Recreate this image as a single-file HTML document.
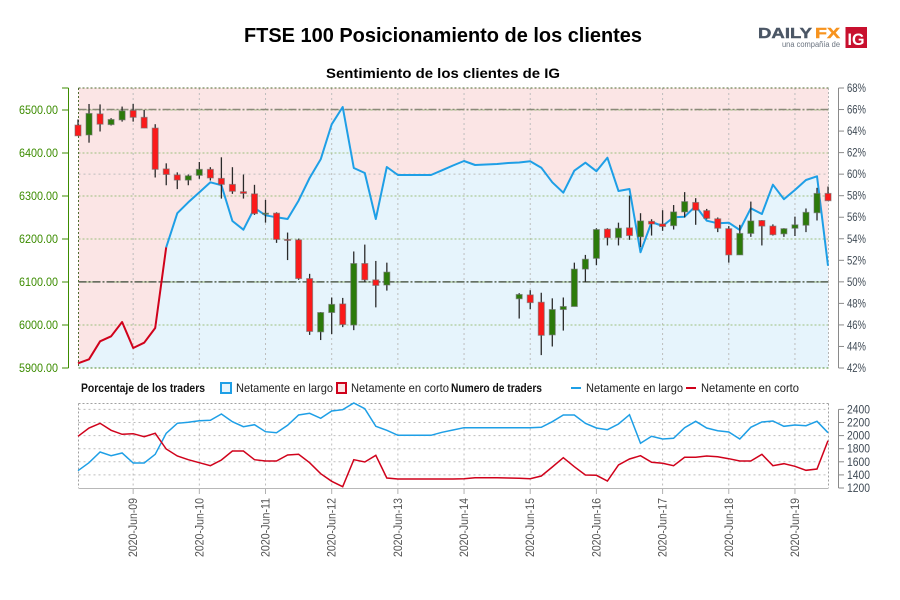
<!DOCTYPE html>
<html lang="es">
<head>
<meta charset="utf-8">
<title>FTSE 100 Posicionamiento de los clientes</title>
<style>
html,body{margin:0;padding:0;background:#fff;}
svg{display:block;font-family:"Liberation Sans",sans-serif;}
</style>
</head>
<body>
<svg id="chart" width="900" height="600" viewBox="0 0 900 600" xmlns="http://www.w3.org/2000/svg">
  <rect x="0" y="0" width="900" height="600" fill="#ffffff"/>
  <text x="244" y="42" font-size="20" font-weight="700" fill="#000" textLength="398" lengthAdjust="spacingAndGlyphs">FTSE 100 Posicionamiento de los clientes</text>
  <text x="326" y="78" font-size="14" font-weight="700" fill="#000" textLength="234" lengthAdjust="spacingAndGlyphs">Sentimiento de los clientes de IG</text>

  <g>
    <text x="758" y="38" font-size="15" font-weight="700" fill="#4b5665" stroke="#4b5665" stroke-width="0.4" textLength="54" lengthAdjust="spacingAndGlyphs">DAILY</text>
    <text x="815" y="38" font-size="15" font-weight="700" fill="#f7931e" stroke="#f7931e" stroke-width="0.4" textLength="25" lengthAdjust="spacingAndGlyphs">FX</text>
    <text x="782" y="47" font-size="8" fill="#6b7480" textLength="58" lengthAdjust="spacingAndGlyphs">una compañía de</text>
    <rect x="845.5" y="27" width="21.5" height="21" fill="#c8102e"/>
    <text x="847.5" y="45" font-size="17" font-weight="700" fill="#ffffff" textLength="17" lengthAdjust="spacingAndGlyphs">IG</text>
  </g>

  <g id="main-panel"></g>
  <g id="lower-panel"></g>

  <g font-size="12">
    <text x="81" y="392" font-weight="700" fill="#111" textLength="124" lengthAdjust="spacingAndGlyphs">Porcentaje de los traders</text>
    <rect x="221" y="383" width="10" height="10" fill="#e6f4fc" stroke="#1e9fe6" stroke-width="2"/>
    <text x="236" y="392" fill="#222" textLength="97" lengthAdjust="spacingAndGlyphs">Netamente en largo</text>
    <rect x="337" y="383" width="9" height="10" fill="#fbe5e5" stroke="#d0021b" stroke-width="2"/>
    <text x="351" y="392" fill="#222" textLength="98" lengthAdjust="spacingAndGlyphs">Netamente en corto</text>
    <text x="451" y="392" font-weight="700" fill="#111" textLength="91" lengthAdjust="spacingAndGlyphs">Numero de traders</text>
    <line x1="571" y1="388" x2="581" y2="388" stroke="#1e9fe6" stroke-width="2"/>
    <text x="586" y="392" fill="#222" textLength="97" lengthAdjust="spacingAndGlyphs">Netamente en largo</text>
    <line x1="686" y1="388" x2="696" y2="388" stroke="#d0021b" stroke-width="2"/>
    <text x="701" y="392" fill="#222" textLength="98" lengthAdjust="spacingAndGlyphs">Netamente en corto</text>
  </g>
</svg>
<script>
const dayLabels = ['2020-Jun-09','2020-Jun-10','2020-Jun-11','2020-Jun-12','2020-Jun-13','2020-Jun-14','2020-Jun-15','2020-Jun-16','2020-Jun-17','2020-Jun-18','2020-Jun-19'];
const priceTicks = [6500,6400,6300,6200,6100,6000,5900];
const pctTicks = [68,66,64,62,60,58,56,54,52,50,48,46,44,42];
const countTicks = [2400,2200,2000,1800,1600,1400,1200];
const opens = [6465,6442,6491,6466,6477,6499,6483,6458,6363,6349,6337,6348,6362,6341,6327,6310,6305,6258,6260,6199,6198,6108,5984,6029,6049,6000,6143,6105,6093,null,null,null,null,null,null,null,null,null,null,null,6061,6070,6053,5977,6036,6043,6130,6155,6223,6203,6226,6205,6241,6235,6231,6263,6285,6266,6247,6224,6163,6213,6243,6230,6212,6225,6232,6261,6306];
const highs = [6478,6514,6513,6481,6508,6514,6500,6467,6376,6355,6350,6379,6367,6390,6367,6350,6326,6291,6262,6215,6201,6119,6030,6064,6063,6171,6187,6149,6145,null,null,null,null,null,null,null,null,null,null,null,6074,6081,6075,6062,6064,6145,6163,6225,6225,6238,6301,6260,6246,6267,6279,6309,6295,6270,6250,6230,6233,6287,6244,6234,6225,6252,6271,6319,6322];
const lows = [6440,6424,6450,6464,6473,6473,6458,6343,6325,6316,6325,6340,6336,6294,6305,6294,6256,6238,6191,6151,6105,5977,5965,5979,5995,5988,6100,6041,6080,null,null,null,null,null,null,null,null,null,null,null,6015,6037,5930,5950,5987,6043,6100,6139,6185,6185,6198,6181,6208,6219,6222,6250,6233,6246,6216,6145,6163,6205,6185,6208,6205,6207,6216,6243,6289];
const closes = [6440,6492,6467,6478,6498,6483,6458,6362,6350,6337,6347,6362,6342,6327,6311,6306,6259,6260,6199,6197,6108,5985,6029,6048,6001,6143,6105,6092,6123,null,null,null,null,null,null,null,null,null,null,null,6071,6052,5976,6036,6043,6130,6153,6222,6203,6225,6208,6242,6235,6229,6263,6287,6267,6248,6225,6163,6213,6242,6230,6210,6224,6233,6262,6306,6289];
const longPercent = [42.44,42.81,44.48,44.94,46.27,43.86,44.35,45.71,53.21,56.37,57.39,58.31,59.24,58.97,55.65,54.84,56.86,56.18,55.99,55.84,57.54,59.64,61.38,64.63,66.24,60.57,60.11,55.84,60.66,59.92,59.92,59.92,59.92,60.36,60.8,61.22,60.85,60.9,60.94,61.04,61.08,61.19,60.6,59.24,58.28,60.32,61.06,60.27,61.53,58.44,58.62,52.74,55.56,55.19,55.99,56.05,57.04,55.68,55.44,55.49,54.81,56.83,56.3,59.02,57.67,58.53,59.46,59.8,51.5];
const longTraders = [1464,1586,1750,1693,1734,1582,1582,1715,2035,2188,2203,2228,2234,2330,2212,2136,2167,2060,2044,2157,2315,2341,2264,2376,2396,2498,2411,2142,2081,2005,2005,2005,2005,2051,2086,2121,2121,2121,2121,2121,2121,2121,2127,2212,2315,2315,2188,2116,2090,2177,2319,1883,1989,1948,1959,2121,2218,2116,2075,2055,1948,2127,2208,2223,2142,2162,2151,2218,2044];
const shortTraders = [1989,2116,2188,2081,2020,2029,1983,2035,1796,1689,1632,1586,1541,1628,1765,1765,1632,1612,1612,1704,1715,1586,1418,1302,1220,1632,1597,1699,1353,1337,1337,1337,1337,1337,1337,1342,1357,1357,1357,1353,1348,1342,1383,1521,1663,1525,1399,1394,1307,1551,1643,1693,1592,1577,1541,1669,1669,1689,1678,1647,1612,1612,1715,1541,1571,1531,1470,1490,1922];

const NS = 'http://www.w3.org/2000/svg';
const PLOT_LEFT = 78.5;
const PLOT_RIGHT = 828.5;
const MAIN_TOP = 88;
const MAIN_BOTTOM = 368;
const LOW_TOP = 403.5;
const LOW_BOTTOM = 488;
const BLUE = '#1e9fe6';
const RED = '#d0021b';
const main = document.getElementById('main-panel');
const lower = document.getElementById('lower-panel');

function x(i){ return 78 + i * 11.03; }
function yPrice(p){ return 110 + (6500 - p) * 0.43; }
function yPct(v){ return 368 - (v - 42) * (280 / 26); }
function yCount(v){ return 488 - (v - 1200) * 0.0655; }
function dayIndex(k){ return 5 + 6 * k; }
function make(tag, attrs, parent, text){
  const node = document.createElementNS(NS, tag);
  for (const key in attrs) node.setAttribute(key, attrs[key]);
  if (text !== undefined) node.textContent = text;
  parent.appendChild(node);
  return node;
}

/* main panel backgrounds */
const pinkBg = make('rect', {x: PLOT_LEFT, y: MAIN_TOP, width: PLOT_RIGHT - PLOT_LEFT, height: MAIN_BOTTOM - MAIN_TOP, fill: '#fbe5e5'}, main);



let areaPts = PLOT_LEFT + ',' + MAIN_BOTTOM + ' ';
longPercent.forEach(function(v, i){ areaPts += x(i).toFixed(1) + ',' + yPct(v).toFixed(1) + ' '; });
areaPts += PLOT_RIGHT + ',' + MAIN_BOTTOM;
const area = make('polygon', {points: areaPts, fill: '#e6f4fc'}, main);



/* vertical day grid, main panel */
dayLabels.forEach(function(label, k){
  const g = make('line', {x1: x(dayIndex(k)), x2: x(dayIndex(k)), y1: MAIN_TOP, y2: MAIN_BOTTOM, stroke: '#bdbdbd', 'stroke-width': 1, 'stroke-dasharray': '2 3'}, main);
  
  
});

/* horizontal price grid */
priceTicks.forEach(function(p){
  const g = make('line', {x1: PLOT_LEFT, x2: PLOT_RIGHT, y1: yPrice(p), y2: yPrice(p), stroke: p === 5900 ? '#4e8a2e' : '#9dbf80', 'stroke-width': 1, 'stroke-dasharray': '2 2'}, main);
  
  
});

/* percent reference lines */
const grid60 = make('line', {x1: PLOT_LEFT, x2: PLOT_RIGHT, y1: yPct(60), y2: yPct(60), stroke: '#bdbdbd', 'stroke-width': 1, 'stroke-dasharray': '2 3'}, main);


const ref66 = make('line', {x1: PLOT_LEFT, x2: PLOT_RIGHT, y1: yPct(66), y2: yPct(66), stroke: '#8a8a78', 'stroke-width': 1.5, 'stroke-dasharray': '8 2 2 2'}, main);


const ref50 = make('line', {x1: PLOT_LEFT, x2: PLOT_RIGHT, y1: yPct(50), y2: yPct(50), stroke: '#55604f', 'stroke-width': 1.5, 'stroke-dasharray': '8 2 2 2'}, main);



/* plot frame */
const frameTop = make('line', {x1: PLOT_LEFT, x2: PLOT_RIGHT, y1: MAIN_TOP, y2: MAIN_TOP, stroke: '#4f6b2f', 'stroke-width': 1, 'stroke-dasharray': '2 2'}, main);


const frameLeft = make('line', {x1: PLOT_LEFT, x2: PLOT_LEFT, y1: MAIN_TOP, y2: MAIN_BOTTOM, stroke: '#4f6b2f', 'stroke-width': 1, 'stroke-dasharray': '2 2'}, main);


const frameRight = make('line', {x1: PLOT_RIGHT, x2: PLOT_RIGHT, y1: MAIN_TOP, y2: MAIN_BOTTOM, stroke: '#b5b5b5', 'stroke-width': 1, 'stroke-dasharray': '2 2'}, main);



/* sentiment line: red while net short, blue while net long */
let run = [];
let runColor = null;
function flushRun(){
  if (run.length < 2) return;
  const seg = make('polyline', {points: run.join(' '), fill: 'none', stroke: runColor, 'stroke-width': 2, 'stroke-linejoin': 'round'}, main);
  
  
}
longPercent.forEach(function(v, i){
  const pt = x(i).toFixed(1) + ',' + yPct(v).toFixed(1);
  const color = v < 50 ? RED : BLUE;
  if (runColor === null) runColor = color;
  run.push(pt);
  if (color !== runColor) {
    flushRun();
    run = [pt];
    runColor = color;
  }
});
flushRun();

/* candles */
opens.forEach(function(o, i){
  if (o === null) return;
  const c = closes[i];
  const up = c > o;
  const wick = make('line', {x1: x(i), x2: x(i), y1: yPrice(highs[i]), y2: yPrice(lows[i]), stroke: '#2a2a2a', 'stroke-width': 1.3}, main);
  
  
  const top = yPrice(Math.max(o, c));
  const h = Math.max(yPrice(Math.min(o, c)) - top, 1);
  const body = make('rect', {x: x(i) - 3, y: top, width: 6, height: h, fill: up ? '#2c7a0a' : '#fb1a1a', stroke: 'rgba(110,110,110,0.6)', 'stroke-width': 1}, main);
  
  
});

/* left price axis */
const leftAxis = make('line', {x1: 68.5, x2: 68.5, y1: MAIN_TOP, y2: MAIN_BOTTOM, stroke: '#3c8c00', 'stroke-width': 1}, main);


const leftTopTick = make('line', {x1: 62, x2: 68.5, y1: MAIN_TOP, y2: MAIN_TOP, stroke: '#3c8c00', 'stroke-width': 1}, main);


priceTicks.forEach(function(p){
  const t = make('line', {x1: 62, x2: 68.5, y1: yPrice(p), y2: yPrice(p), stroke: '#3c8c00', 'stroke-width': 1}, main);
  
  
  const lab = make('text', {x: 19, y: yPrice(p) + 4, 'font-size': 12, fill: '#3c8c00', textLength: 39, lengthAdjust: 'spacingAndGlyphs'}, main, p.toFixed(2));
  
  
});

/* right percent axis */
const rightAxis = make('line', {x1: 838.5, x2: 838.5, y1: MAIN_TOP, y2: MAIN_BOTTOM, stroke: '#8a8a8a', 'stroke-width': 1}, main);


pctTicks.forEach(function(v){
  const t = make('line', {x1: 838.5, x2: 844, y1: yPct(v), y2: yPct(v), stroke: '#8a8a8a', 'stroke-width': 1}, main);
  
  
  const lab = make('text', {x: 847, y: yPct(v) + 4, 'font-size': 12, fill: '#3f4a55', textLength: 19, lengthAdjust: 'spacingAndGlyphs'}, main, v + '%');
  
  
});

/* lower panel grid */
countTicks.forEach(function(v){
  if (v === 1200) return;
  const g = make('line', {x1: PLOT_LEFT, x2: PLOT_RIGHT, y1: yCount(v), y2: yCount(v), stroke: '#bdbdbd', 'stroke-width': 1, 'stroke-dasharray': '2 3'}, lower);
  
  
});
const lowTop = make('line', {x1: PLOT_LEFT, x2: PLOT_RIGHT, y1: LOW_TOP, y2: LOW_TOP, stroke: '#a0a0a0', 'stroke-width': 1, 'stroke-dasharray': '2 2'}, lower);


const lowLeft = make('line', {x1: PLOT_LEFT, x2: PLOT_LEFT, y1: LOW_TOP, y2: LOW_BOTTOM, stroke: '#a0a0a0', 'stroke-width': 1, 'stroke-dasharray': '2 2'}, lower);


const lowRight = make('line', {x1: PLOT_RIGHT, x2: PLOT_RIGHT, y1: LOW_TOP, y2: LOW_BOTTOM, stroke: '#a0a0a0', 'stroke-width': 1, 'stroke-dasharray': '2 2'}, lower);



dayLabels.forEach(function(label, k){
  const cx = x(dayIndex(k));
  const g = make('line', {x1: cx, x2: cx, y1: LOW_TOP, y2: LOW_BOTTOM, stroke: '#bdbdbd', 'stroke-width': 1, 'stroke-dasharray': '2 3'}, lower);
  
  
  const t = make('line', {x1: cx, x2: cx, y1: LOW_BOTTOM, y2: 494, stroke: '#b0b0b0', 'stroke-width': 1}, lower);
  
  
  const lab = make('text', {transform: 'translate(' + (cx + 4) + ',557) rotate(-90)', 'font-size': 12, fill: '#555', textLength: 59, lengthAdjust: 'spacingAndGlyphs'}, lower, label);
  
  
});
const dateAxis = make('line', {x1: PLOT_LEFT, x2: PLOT_RIGHT, y1: 488.5, y2: 488.5, stroke: '#b8b8b8', 'stroke-width': 1}, lower);



/* lower panel series */
const longPts = longTraders.map(function(v, i){ return x(i).toFixed(1) + ',' + yCount(v).toFixed(1); }).join(' ');
const longLine = make('polyline', {points: longPts, fill: 'none', stroke: BLUE, 'stroke-width': 1.5}, lower);


const shortPts = shortTraders.map(function(v, i){ return x(i).toFixed(1) + ',' + yCount(v).toFixed(1); }).join(' ');
const shortLine = make('polyline', {points: shortPts, fill: 'none', stroke: RED, 'stroke-width': 1.5}, lower);



/* right count axis */
const countAxis = make('line', {x1: 838.5, x2: 838.5, y1: yCount(2400), y2: yCount(1200), stroke: '#8a8a8a', 'stroke-width': 1}, lower);


countTicks.forEach(function(v){
  const t = make('line', {x1: 838.5, x2: 844, y1: yCount(v), y2: yCount(v), stroke: '#8a8a8a', 'stroke-width': 1}, lower);
  
  
  const lab = make('text', {x: 847, y: yCount(v) + 4, 'font-size': 12, fill: '#3f4a55', textLength: 23, lengthAdjust: 'spacingAndGlyphs'}, lower, String(v));
  
  
});
</script>
</body>
</html>
